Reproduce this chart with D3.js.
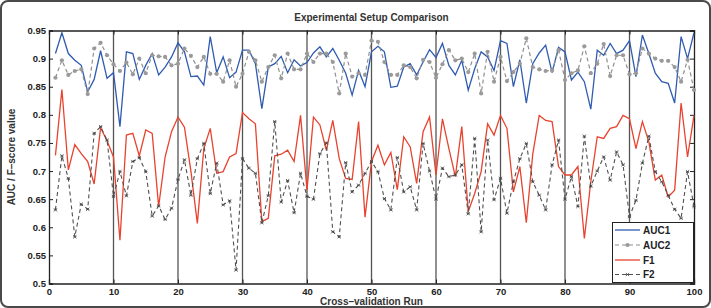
<!DOCTYPE html>
<html><head><meta charset="utf-8">
<script src="https://cdn.jsdelivr.net/npm/d3@7"></script>
<style>body{margin:0;background:#fff}svg{display:block}text{font-family:"Liberation Sans",Arial,sans-serif;font-weight:bold}</style>
</head><body>
<svg id="c" width="711" height="308"></svg>
<script>
const runs = d3.range(1, 101);
const auc1 = [0.909,0.946,0.909,0.897,0.888,0.841,0.863,0.914,0.865,0.875,
0.779,0.912,0.909,0.863,0.888,0.909,0.871,0.885,0.903,0.928,
0.912,0.868,0.869,0.853,0.939,0.875,0.903,0.866,0.876,0.915,
0.915,0.891,0.811,0.885,0.891,0.904,0.875,0.898,0.887,0.893,
0.910,0.921,0.903,0.918,0.897,0.874,0.835,0.879,0.850,0.912,
0.922,0.912,0.849,0.851,0.885,0.891,0.871,0.894,0.916,0.902,
0.927,0.888,0.871,0.897,0.844,0.882,0.912,0.903,0.879,0.932,
0.927,0.850,0.898,0.821,0.891,0.910,0.924,0.875,0.920,0.912,
0.862,0.876,0.859,0.810,0.915,0.906,0.927,0.909,0.915,0.932,
0.868,0.942,0.909,0.874,0.859,0.856,0.821,0.939,0.900,0.946];
const auc2 = [0.866,0.897,0.871,0.878,0.881,0.837,0.918,0.928,0.906,0.890,
0.878,0.893,0.872,0.900,0.874,0.906,0.904,0.903,0.888,0.891,
0.918,0.905,0.885,0.903,0.873,0.873,0.859,0.897,0.850,0.873,
0.912,0.897,0.859,0.885,0.906,0.865,0.909,0.881,0.881,0.909,
0.894,0.909,0.909,0.894,0.838,0.909,0.868,0.874,0.871,0.932,
0.930,0.894,0.871,0.871,0.888,0.885,0.865,0.898,0.894,0.866,
0.890,0.915,0.897,0.900,0.876,0.909,0.838,0.912,0.859,0.903,
0.860,0.876,0.891,0.936,0.885,0.881,0.878,0.879,0.915,0.862,
0.874,0.879,0.922,0.874,0.891,0.926,0.869,0.906,0.906,0.872,
0.874,0.918,0.909,0.900,0.896,0.896,0.885,0.859,0.898,0.844];
const f1 = [0.728,0.845,0.702,0.747,0.731,0.717,0.677,0.777,0.754,0.725,
0.577,0.764,0.767,0.727,0.773,0.767,0.637,0.725,0.770,0.796,
0.778,0.700,0.607,0.740,0.776,0.696,0.699,0.725,0.731,0.804,
0.793,0.784,0.610,0.616,0.727,0.730,0.737,0.717,0.799,0.666,
0.796,0.782,0.737,0.790,0.722,0.687,0.685,0.788,0.618,0.717,
0.746,0.711,0.733,0.667,0.761,0.743,0.678,0.770,0.796,0.693,
0.793,0.740,0.690,0.779,0.628,0.660,0.699,0.784,0.764,0.799,
0.776,0.663,0.708,0.608,0.730,0.799,0.790,0.788,0.708,0.693,
0.693,0.708,0.580,0.681,0.761,0.758,0.776,0.779,0.799,0.793,
0.740,0.788,0.752,0.684,0.693,0.654,0.666,0.821,0.725,0.799];
const f2 = [0.631,0.727,0.687,0.583,0.641,0.632,0.767,0.779,0.755,0.655,
0.699,0.656,0.717,0.724,0.699,0.620,0.638,0.614,0.634,0.685,
0.720,0.657,0.722,0.749,0.660,0.714,0.640,0.647,0.524,0.722,
0.705,0.696,0.608,0.656,0.788,0.645,0.683,0.626,0.696,0.655,
0.650,0.731,0.750,0.592,0.583,0.715,0.663,0.675,0.696,0.717,
0.699,0.651,0.631,0.724,0.663,0.672,0.631,0.749,0.700,0.650,
0.705,0.690,0.693,0.711,0.624,0.758,0.592,0.755,0.649,0.687,
0.625,0.681,0.722,0.749,0.681,0.657,0.631,0.711,0.755,0.650,
0.690,0.637,0.762,0.673,0.700,0.725,0.684,0.734,0.711,0.619,
0.648,0.714,0.762,0.699,0.681,0.657,0.632,0.616,0.699,0.637];
const xTicks = [0,10,20,30,40,50,60,70,80,90,100];
const yTicks = [0.5,0.55,0.6,0.65,0.7,0.75,0.8,0.85,0.9,0.95];
const seriesNames = ["AUC1","AUC2","F1","F2"];
const title = "Experimental Setup Comparison";
const xLabel = "Cross\u2013validation Run";
const yLabel = "AUC / F\u2013score value";

const svg = d3.select("#c");
const L = 49, R = 694, T = 30.5, B = 283.5;
const x = d3.scaleLinear().domain([0,100]).range([L,R]);
const y = d3.scaleLinear().domain([0.5,0.95]).range([B,T]);

// frame
svg.append("rect").attr("x",1).attr("y",1).attr("width",709).attr("height",306)
  .attr("rx",7).attr("fill","none").attr("stroke","#4a4a4a").attr("stroke-width",2);

// grid verticals
svg.append("g").selectAll("line").data(xTicks.filter(d=>d>0&&d<100)).join("line")
  .attr("x1",d=>x(d)).attr("x2",d=>x(d)).attr("y1",T).attr("y2",B)
  .attr("stroke","#555").attr("stroke-width",1.3);

// axes
const ga = svg.append("g").attr("transform",`translate(0,${B})`)
  .call(d3.axisBottom(x).tickValues(xTicks).tickSize(-4).tickPadding(5).tickFormat(d3.format("d")));
const gl = svg.append("g").attr("transform",`translate(${L},0)`)
  .call(d3.axisLeft(y).tickValues(yTicks).tickSize(-4).tickPadding(3).tickFormat(d=>String(+d.toFixed(2))));
const gr = svg.append("g").attr("transform",`translate(${R},0)`)
  .call(d3.axisRight(y).tickValues(yTicks).tickSize(-4).tickFormat(""));
const gt = svg.append("g").attr("transform",`translate(0,${T})`)
  .call(d3.axisTop(x).tickValues(xTicks).tickSize(-4).tickFormat(""));
[ga,gl,gr,gt].forEach(g=>{
  g.selectAll(".domain").attr("stroke","#222").attr("stroke-width",1.3);
  g.selectAll(".tick line").attr("stroke","#222");
  g.selectAll("text").attr("fill","#222").style("font-size","9.5px").style("font-weight","bold");
});

const line = d3.line().x((d,i)=>x(runs[i])).y(d=>y(d));
const styles = [
  {data:auc1,color:"#2f5bb0",dash:null,w:1.3},
  {data:auc2,color:"#8f8f8f",dash:"4,3",w:1.2},
  {data:f1,color:"#e8432e",dash:null,w:1.3},
  {data:f2,color:"#505050",dash:"4,3",w:1.1}
];
const plot = svg.append("g");
styles.forEach((s,k)=>{
  plot.append("path").datum(s.data).attr("d",line).attr("fill","none")
    .attr("stroke",s.color).attr("stroke-width",s.w).attr("stroke-dasharray",s.dash);
});
plot.append("g").selectAll("circle").data(auc2).join("circle")
  .attr("cx",(d,i)=>x(runs[i])).attr("cy",d=>y(d)).attr("r",2.1).attr("fill","#9a9a9a");
const star = (g,cx,cy,s,c)=>{
  [[-s,-s,s,s],[-s,s,s,-s],[-s,0,s,0]].forEach(a=>g.append("line")
    .attr("x1",cx+a[0]).attr("y1",cy+a[1]).attr("x2",cx+a[2]).attr("y2",cy+a[3])
    .attr("stroke",c).attr("stroke-width",0.8));
};
const mg = plot.append("g");
f2.forEach((d,i)=>star(mg,x(runs[i]),y(d),1.6,"#444"));

// legend
const lg = svg.append("g");
lg.append("rect").attr("x",612.5).attr("y",222.5).attr("width",81).attr("height",60)
  .attr("fill","#fff").attr("stroke","#222").attr("stroke-width",1);
const ly = [230,245,260,274.5];
styles.forEach((s,k)=>{
  lg.append("line").attr("x1",615).attr("x2",640).attr("y1",ly[k]).attr("y2",ly[k])
    .attr("stroke",s.color).attr("stroke-width",s.w).attr("stroke-dasharray",s.dash);
  if(k===1) lg.append("circle").attr("cx",627.5).attr("cy",ly[k]).attr("r",2.1).attr("fill","#9a9a9a");
  if(k===3) star(lg,627.5,ly[k],1.6,"#444");
  lg.append("text").attr("x",643).attr("y",ly[k]+3.5).text(seriesNames[k])
    .style("font-size","10px").attr("fill","#222");
});

svg.append("text").attr("x",(L+R)/2).attr("y",21).attr("text-anchor","middle")
  .style("font-size","10px").attr("fill","#333").text(title);
svg.append("text").attr("x",(L+R)/2).attr("y",305).attr("text-anchor","middle")
  .style("font-size","10px").attr("fill","#333").text(xLabel);
svg.append("text").attr("transform",`translate(15,${(T+B)/2}) rotate(-90)`).attr("text-anchor","middle")
  .style("font-size","10px").attr("fill","#333").text(yLabel);
</script>
</body></html>
